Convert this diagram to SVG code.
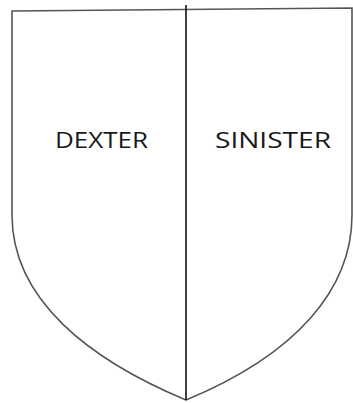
<svg xmlns="http://www.w3.org/2000/svg" width="353" height="403" viewBox="0 0 353 403">
<style>
.lbl{font-family:"Open Sans","Liberation Sans",Arial,sans-serif;font-size:21px;fill:#1a1a1a;text-anchor:middle}
</style>
<rect width="353" height="403" fill="#fff"/>
<g id="shield">
<path d="M12,11 L352,8 L352,215 C352,290 295,355 186,400 C90,360 12,300 12,215 Z" fill="none" stroke="#555" stroke-width="1.6"/>
</g>
<g id="connectors">
<line x1="186" y1="5" x2="186" y2="400" stroke="#000" stroke-width="1.5"/>
</g>
<g id="dexter"><text class="lbl" x="101.5" y="148" textLength="93" lengthAdjust="spacingAndGlyphs">DEXTER</text></g>
<g id="sinister"><text class="lbl" x="273" y="148" textLength="116" lengthAdjust="spacingAndGlyphs">SINISTER</text></g>
</svg>
